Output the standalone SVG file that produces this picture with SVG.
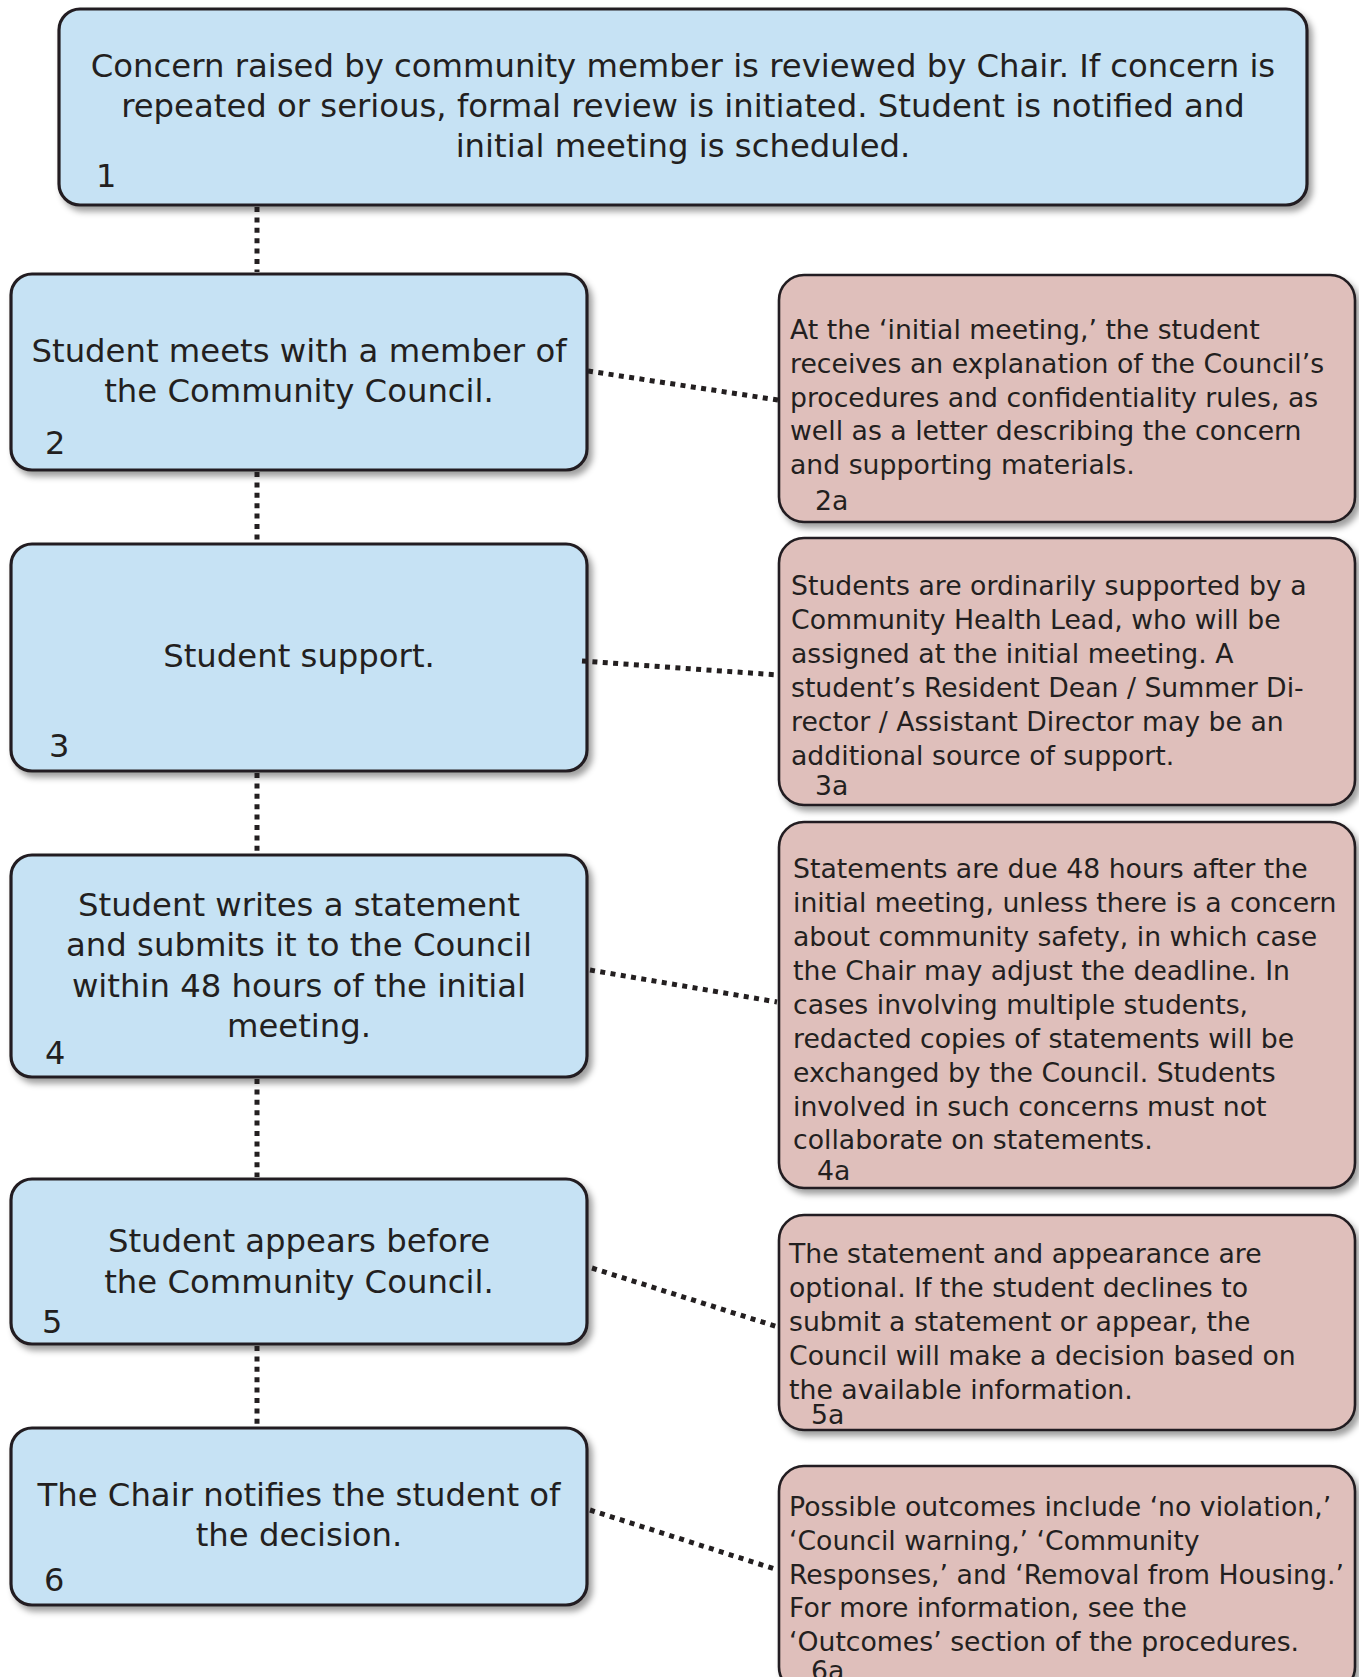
<svg xmlns="http://www.w3.org/2000/svg" width="1359" height="1677" viewBox="0 0 1359 1677">
<style>
.blue{fill:#c6e2f4;stroke:#231f20;stroke-width:3.2}
.pink{fill:#dfbfbb;stroke:#231f20;stroke-width:2.6}
.t{font-family:"DejaVu Sans","Liberation Sans",sans-serif;fill:#231f20}
.bt{font-size:32.3px;text-anchor:middle}
.nb{font-size:32px}
.pt{font-size:26.7px}
.conn{fill:none;stroke:#231f20;stroke-width:5;stroke-dasharray:5 5.4}
</style>
<defs>
<filter id="sh" x="-10%" y="-10%" width="125%" height="130%">
<feDropShadow dx="4" dy="5" stdDeviation="3" flood-color="#000" flood-opacity="0.38"/>
</filter>
</defs>
<rect width="1359" height="1677" fill="#ffffff"/>
<g id="n1">
<rect class="blue" filter="url(#sh)" x="59" y="9" width="1248" height="196" rx="21"/>
<text class="t bt" x="683"><tspan x="683" y="77">Concern raised by community member is reviewed by Chair. If concern is</tspan><tspan x="683" y="117">repeated or serious, formal review is initiated. Student is notified and</tspan><tspan x="683" y="157">initial meeting is scheduled.</tspan></text>
<text class="t nb" x="96" y="187">1</text>
</g>
<g id="n2">
<rect class="blue" filter="url(#sh)" x="11" y="274" width="576" height="196" rx="21"/>
<text class="t bt"><tspan x="299" y="362">Student meets with a member of</tspan><tspan x="299" y="402">the Community Council.</tspan></text>
<text class="t nb" x="45" y="454">2</text>
</g>
<g id="n3">
<rect class="blue" filter="url(#sh)" x="11" y="544" width="576" height="227" rx="21"/>
<text class="t bt" x="299" y="667">Student support.</text>
<text class="t nb" x="49" y="757">3</text>
</g>
<g id="n4">
<rect class="blue" filter="url(#sh)" x="11" y="855" width="576" height="222" rx="21"/>
<text class="t bt"><tspan x="299" y="916">Student writes a statement</tspan><tspan x="299" y="956">and submits it to the Council</tspan><tspan x="299" y="997">within 48 hours of the initial</tspan><tspan x="299" y="1037">meeting.</tspan></text>
<text class="t nb" x="45" y="1064">4</text>
</g>
<g id="n5">
<rect class="blue" filter="url(#sh)" x="11" y="1179" width="576" height="165" rx="21"/>
<text class="t bt"><tspan x="299" y="1252">Student appears before</tspan><tspan x="299" y="1293">the Community Council.</tspan></text>
<text class="t nb" x="42" y="1333">5</text>
</g>
<g id="n6">
<rect class="blue" filter="url(#sh)" x="11" y="1428" width="576" height="177" rx="21"/>
<text class="t bt"><tspan x="299" y="1506">The Chair notifies the student of</tspan><tspan x="299" y="1546">the decision.</tspan></text>
<text class="t nb" x="44" y="1591">6</text>
</g>
<g id="n2a">
<rect class="pink" filter="url(#sh)" x="779" y="275" width="576" height="247" rx="25"/>
<text class="t pt"><tspan x="790" y="339">At the ‘initial meeting,’ the student</tspan><tspan x="790" y="373">receives an explanation of the Council’s</tspan><tspan x="790" y="406.5">procedures and confidentiality rules, as</tspan><tspan x="790" y="440">well as a letter describing the concern</tspan><tspan x="790" y="473.5">and supporting materials.</tspan></text>
<text class="t pt" x="815" y="510">2a</text>
</g>
<g id="n3a">
<rect class="pink" filter="url(#sh)" x="779" y="538" width="576" height="267" rx="25"/>
<text class="t pt"><tspan x="791" y="595">Students are ordinarily supported by a</tspan><tspan x="791" y="629">Community Health Lead, who will be</tspan><tspan x="791" y="663">assigned at the initial meeting. A</tspan><tspan x="791" y="697">student’s Resident Dean / Summer Di-</tspan><tspan x="791" y="731">rector / Assistant Director may be an</tspan><tspan x="791" y="765">additional source of support.</tspan></text>
<text class="t pt" x="815" y="795">3a</text>
</g>
<g id="n4a">
<rect class="pink" filter="url(#sh)" x="779" y="822" width="576" height="366" rx="25"/>
<text class="t pt"><tspan x="793" y="878">Statements are due 48 hours after the</tspan><tspan x="793" y="912">initial meeting, unless there is a concern</tspan><tspan x="793" y="946">about community safety, in which case</tspan><tspan x="793" y="980">the Chair may adjust the deadline. In</tspan><tspan x="793" y="1014">cases involving multiple students,</tspan><tspan x="793" y="1048">redacted copies of statements will be</tspan><tspan x="793" y="1082">exchanged by the Council. Students</tspan><tspan x="793" y="1116">involved in such concerns must not</tspan><tspan x="793" y="1149">collaborate on statements.</tspan></text>
<text class="t pt" x="817" y="1180">4a</text>
</g>
<g id="n5a">
<rect class="pink" filter="url(#sh)" x="779" y="1215" width="576" height="215" rx="25"/>
<text class="t pt"><tspan x="789" y="1263">The statement and appearance are</tspan><tspan x="789" y="1297">optional. If the student declines to</tspan><tspan x="789" y="1331">submit a statement or appear, the</tspan><tspan x="789" y="1365">Council will make a decision based on</tspan><tspan x="789" y="1399">the available information.</tspan></text>
<text class="t pt" x="811" y="1424">5a</text>
</g>
<g id="n6a">
<rect class="pink" filter="url(#sh)" x="779" y="1466" width="576" height="226" rx="25"/>
<text class="t pt"><tspan x="789" y="1516">Possible outcomes include ‘no violation,’</tspan><tspan x="789" y="1550">‘Council warning,’ ‘Community</tspan><tspan x="789" y="1584">Responses,’ and ‘Removal from Housing.’</tspan><tspan x="789" y="1617">For more information, see the</tspan><tspan x="789" y="1651">‘Outcomes’ section of the procedures.</tspan></text>
<text class="t pt" x="811" y="1680">6a</text>
</g>
<g id="connectors">
<line class="conn" x1="257" y1="207" x2="257" y2="272"/>
<line class="conn" x1="257" y1="472" x2="257" y2="542"/>
<line class="conn" x1="257" y1="773" x2="257" y2="853"/>
<line class="conn" x1="257" y1="1079" x2="257" y2="1177"/>
<line class="conn" x1="257" y1="1346" x2="257" y2="1426"/>
<line class="conn" x1="588" y1="371" x2="778" y2="400"/>
<line class="conn" x1="582" y1="661" x2="778" y2="675"/>
<line class="conn" x1="590" y1="970" x2="777" y2="1002"/>
<line class="conn" x1="592" y1="1268" x2="778" y2="1327"/>
<line class="conn" x1="590" y1="1510" x2="778" y2="1570"/>
</g>
</svg>
